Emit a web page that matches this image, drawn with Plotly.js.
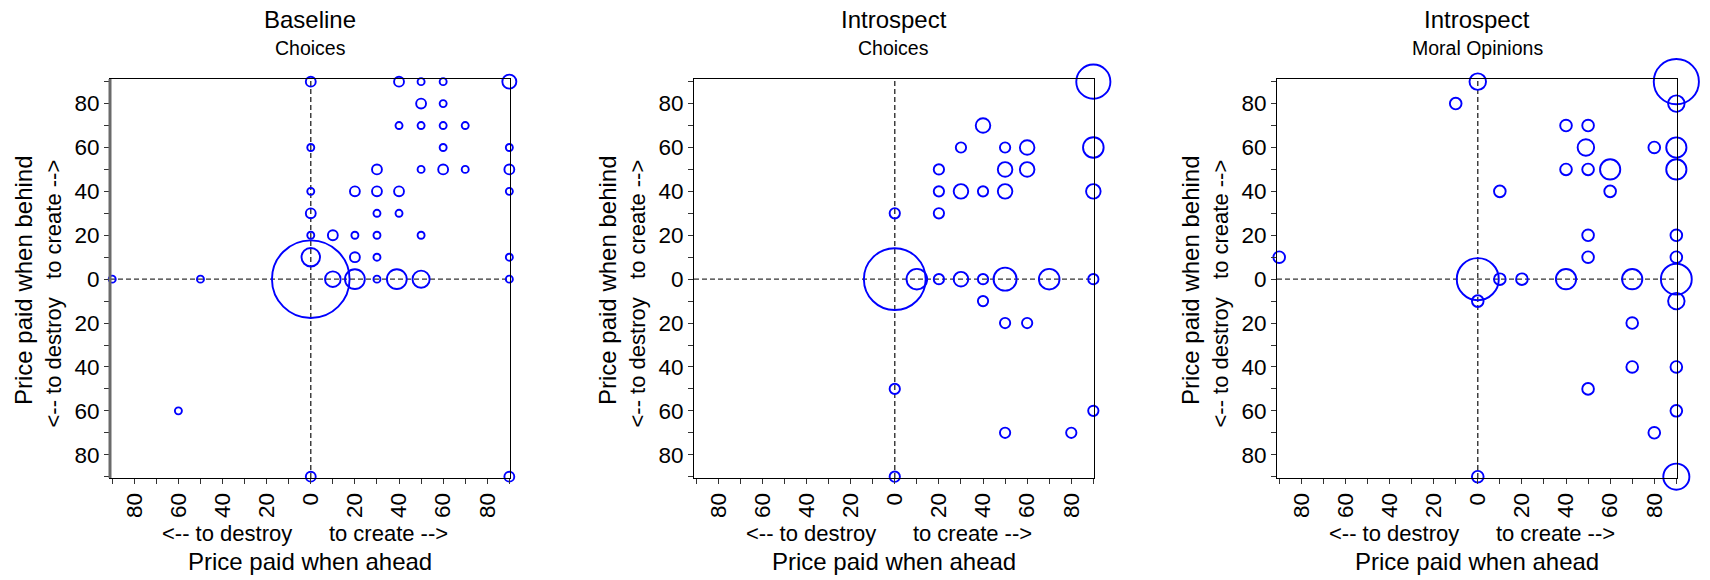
<!DOCTYPE html>
<html>
<head>
<meta charset="utf-8">
<script src="https://cdn.plot.ly/plotly-3.0.1.min.js"></script>
<style>html,body{margin:0;padding:0;background:#fff;}#chart{width:1710px;height:580px;}</style>
</head>
<body>
<div id="chart"></div>
<script>
// ---------- data ----------
const panelTitles = ['Baseline', 'Introspect', 'Introspect'];
const panelSubtitles = ['Choices', 'Choices', 'Moral Opinions'];
const xTitle = 'Price paid when ahead';
const yTitle = 'Price paid when behind';
const directionText = ['&lt;-- to destroy', 'to create --&gt;'];

const tickVals = [-90,-80,-70,-60,-50,-40,-30,-20,-10,0,10,20,30,40,50,60,70,80,90];
const tickText = ['','80','','60','','40','','20','','0','','20','','40','','60','','80',''];

// Baseline / Choices  (x = when ahead, y = when behind, n = frequency)
const baseX = [0,40,50,60,90, 50,60, 40,50,60,70, 0,60,90, 30,50,60,70,90, 0,20,30,40,90, 0,30,40, 0,10,20,30,50, 0,20,30,90, 0,-90,-50,10,20,30,39,50,90, -60,0,90];
const baseY = [90,90,90,90,90, 80,80, 70,70,70,70, 60,60,60, 50,50,50,50,50, 40,40,40,40,40, 30,30,30, 20,20,20,20,20, 10,10,10,10, 0,0,0,0,0,0,0,0,0, -60,-90,-90];
const baseN = [2,2,1,1,4, 2,1, 1,1,1,1, 1,1,1, 2,1,2,1,2, 1,2,2,2,1, 2,1,1, 1,2,1,1,1, 7,2,1,1, 123,1,1,5,8,1,8,6,1, 1,2,2];

// Introspect / Choices
const intChX = [90,40,30,50,60,90, 20,50,60, 20,30,40,50,90, 0,20, 0,10,20,30,40,50,70,90, 40,50,60,0,90,50,80,0];
const intChY = [90,70,60,60,60,60, 50,50,50, 40,40,40,40,40, 30,30, 0,0,0,0,0,0,0,0, -10,-20,-20,-50,-60,-70,-70,-90];
const intChN = [11,2,1,1,2,4, 1,2,2, 1,2,1,2,2, 1,1, 36,4,1,2,1,5,4,1, 1,1,1,1,1,1,1,1];

// Introspect / Moral Opinions
const intMoX = [90,0,-10,90,40,50,49,80,90,40,50,60,90,10,60,50,90,-90,50,90, 0,10,20,40,70,90, 0,90,70,70,90,50,90,80,0,90];
const intMoY = [90,90,80,80,70,70,60,60,60,50,50,50,50,40,40,20,20,10,10,10, 0,0,0,0,0,0, -10,-10,-20,-40,-40,-50,-60,-70,-90,-90];
const intMoN = [15,2,1,2,1,1,2,1,3,1,1,3,3,1,1,1,1,1,1,1, 13,1,1,3,3,7, 1,2,1,1,1,1,1,1,1,5];

// ---------- layout helpers ----------
const W = 1710, H = 580;
const plotLeft = [110, 694, 1277];
const plotWidth = 400;
const plotTop = 79, plotBottom = 478;
const sizeRefs = [2/49, 2/106, 2/136];
const blue = '#0000ff';
const font = 'Liberation Sans, Arial, Helvetica, sans-serif';

const series = [[baseX, baseY, baseN], [intChX, intChY, intChN], [intMoX, intMoY, intMoN]];

const traces = [];
const layout = {
  width: W, height: H,
  margin: {l: 0, r: 0, t: 0, b: 0},
  paper_bgcolor: '#fff', plot_bgcolor: '#fff',
  showlegend: false,
  font: {family: font, color: '#000'},
  shapes: [], annotations: []
};

series.forEach((s, i) => {
  const k = i === 0 ? '' : String(i + 1);
  traces.push({
    type: 'scatter', mode: 'markers',
    x: s[0], y: s[1],
    xaxis: 'x' + k, yaxis: 'y' + k,
    cliponaxis: false,
    hoverinfo: 'x+y+text', text: s[2].map(v => 'n=' + v),
    marker: {
      symbol: 'circle-open', size: s[2], sizemode: 'area', sizeref: sizeRefs[i],
      color: blue, opacity: 1, line: {color: blue, width: 1.9}
    }
  });
  const x0 = plotLeft[i] / W, x1 = (plotLeft[i] + plotWidth) / W;
  const axCommon = {
    tickmode: 'array', tickvals: tickVals, ticktext: tickText,
    ticks: 'outside', ticklen: 5, tickwidth: 1, tickcolor: '#333',
    tickfont: {size: 22.5, family: font, color: '#000'},
    showgrid: false, zeroline: false,
    showline: true, linecolor: '#000', linewidth: 1, mirror: true,
    fixedrange: true
  };
  layout['xaxis' + k] = Object.assign({}, axCommon, {
    domain: [x0, x1], range: [-91, 90.3], anchor: 'y' + k, tickangle: -90
  });
  layout['yaxis' + k] = Object.assign({}, axCommon, {
    domain: [1 - plotBottom / H, 1 - plotTop / H], range: [-90.6, 91.2], anchor: 'x' + k, tickangle: 0
  });
  // dashed reference lines at 0
  layout.shapes.push({type: 'line', xref: 'x' + k, yref: 'y' + k + ' domain', x0: 0, x1: 0, y0: 0, y1: 1,
    line: {color: '#333', width: 1.4, dash: '5px,3px'}, layer: 'below'});
  layout.shapes.push({type: 'line', xref: 'x' + k + ' domain', yref: 'y' + k, x0: 0, x1: 1, y0: 0, y1: 0,
    line: {color: '#333', width: 1.4, dash: '5px,3px'}, layer: 'below'});
  if (i === 0) {
    layout.shapes.push({type: 'line', xref: 'x domain', yref: 'y domain', x0: 0, x1: 0, y0: 0, y1: 1,
      line: {color: '#6a6a6a', width: 3}, layer: 'above'});
  }
  const cx = (plotLeft[i] + plotWidth / 2) / W;
  const ann = (text, x, ypx, size, extra) => Object.assign({
    text: text, xref: 'paper', yref: 'paper', x: x, y: 1 - ypx / H,
    xanchor: 'center', yanchor: 'middle', showarrow: false,
    font: {size: size, family: font, color: '#000'}
  }, extra || {});
  const nb = n => '\u00a0'.repeat(n);
  layout.annotations.push(ann(panelTitles[i], cx, 19, 24));
  layout.annotations.push(ann(panelSubtitles[i], cx, 48.3, 19.5));
  layout.annotations.push(ann(directionText[0] + nb(6) + directionText[1], cx - 5 / W, 533.5, 22));
  layout.annotations.push(ann(xTitle, cx, 561.5, 24));
  layout.annotations.push(ann(yTitle, (plotLeft[i] - 87) / W, 280, 24, {textangle: -90}));
  layout.annotations.push(ann(directionText[0] + nb(3) + directionText[1], (plotLeft[i] - 57) / W, 293.5, 22, {textangle: -90}));
});

Plotly.newPlot('chart', traces, layout, {staticPlot: true, displayModeBar: false});
</script>
</body>
</html>
